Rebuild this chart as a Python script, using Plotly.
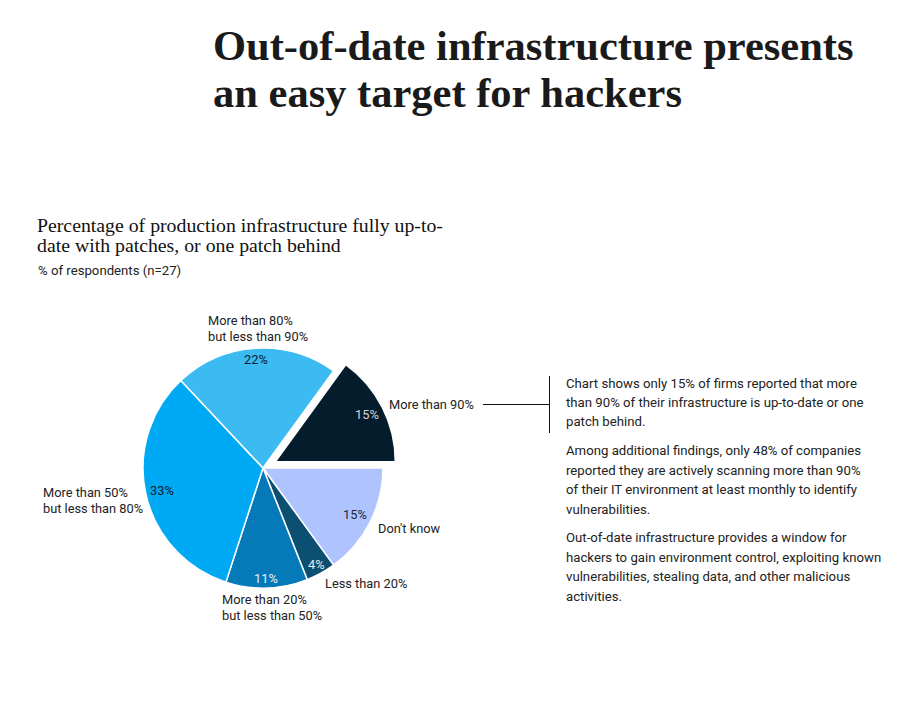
import math
import plotly.graph_objects as go

# ---------------- data ----------------
categories = ["More than 90%", "Don't know", "Less than 20%",
              "More than 20%<br>but less than 50%",
              "More than 50%<br>but less than 80%",
              "More than 80%<br>but less than 90%"]
values = [15, 15, 4, 11, 33, 22]
slice_colors = ["#051c2c", "#afc3ff", "#0b4f71", "#0679b8", "#00a9f4", "#3cbaf2"]
pct_text_colors = ["#d0d4d8", "#1a2a3a", "#e8eef2", "#e8eef2", "#0a2030", "#0a2030"]
pulls = [0.115, 0, 0, 0, 0, 0]

title_lines = ["Out-of-date infrastructure presents", "an easy target for hackers"]
subtitle_lines = ["Percentage of production infrastructure fully up-to-",
                  "date with patches, or one patch behind"]
unit_text = "% of respondents (n=27)"
notes = [
    ["Chart shows only 15% of firms reported that more",
     "than 90% of their infrastructure is up-to-date or one",
     "patch behind."],
    ["Among additional findings, only 48% of companies",
     "reported they are actively scanning more than 90%",
     "of their IT environment at least monthly to identify",
     "vulnerabilities."],
    ["Out-of-date infrastructure provides a window for",
     "hackers to gain environment control, exploiting known",
     "vulnerabilities, stealing data, and other malicious",
     "activities."],
]

# ---------------- layout constants ----------------
W, H = 903, 718
OFF = 8  # page body margin
CX, CY, R = 263, 468, 120
ROT = 36
max_pull = max(pulls)
box = 2 * R * (1 + max_pull)

SANS = "Roboto, Arial, sans-serif"
SERIF = "Liberation Serif, Times New Roman, serif"
TXT = "#222222"
FS = 13.2
FS_LAB = 12.8


def px(x, y):
    return (x - OFF) / W, 1 - (y - OFF) / H


fig = go.Figure()
dx0, dy1 = px(CX - box / 2, CY - box / 2)
dx1, dy0 = px(CX + box / 2, CY + box / 2)
fig.add_trace(go.Pie(
    labels=categories, values=values, sort=False, direction="clockwise",
    rotation=ROT, pull=pulls, textinfo="none", hoverinfo="label+percent",
    marker=dict(colors=slice_colors, line=dict(color="white", width=1.5)),
    domain=dict(x=[dx0, dx1], y=[dy0, dy1]),
    showlegend=False,
))

ann = []

# percentage labels placed along each slice bisector
label_r = [0.86, 0.86, 0.92, 0.92, 0.86, 0.91]
total = sum(values)
start = ROT
for v, pull, c, lr in zip(values, pulls, pct_text_colors, label_r):
    span = 360 * v / total
    mid = math.radians(start + span / 2)
    ox = CX + pull * R * math.sin(mid)
    oy = CY - pull * R * math.cos(mid)
    tx = ox + lr * R * math.sin(mid)
    ty = oy - lr * R * math.cos(mid)
    x, y = px(tx, ty)
    ann.append(dict(x=x, y=y, xref="paper", yref="paper", showarrow=False,
                    text=f"{round(100 * v / total)}%",
                    font=dict(family=SANS, size=FS_LAB, color=c),
                    xanchor="center", yanchor="middle"))
    start += span

# category labels
cat_pos = [(387, 404), (376, 528), (323, 583),
           (220, 607), (41, 500), (206, 328)]
for lab, (lx, ly) in zip(categories, cat_pos):
    lines = lab.split("<br>")
    for i, ln in enumerate(lines):
        yy = ly - (len(lines) - 1) * 8 + i * 16
        x, y = px(lx, yy)
        ann.append(dict(x=x, y=y, xref="paper", yref="paper", showarrow=False,
                        text=ln, font=dict(family=SANS, size=FS_LAB, color=TXT),
                        xanchor="left", yanchor="middle"))

# title
for i, ln in enumerate(title_lines):
    x, y = px(211, 46 + i * 47)
    ann.append(dict(x=x, y=y, xref="paper", yref="paper", showarrow=False,
                    text=f"<b>{ln}</b>",
                    font=dict(family=SERIF, size=42.5, color="#1a1a1a"),
                    xanchor="left", yanchor="middle"))

# subtitle
for i, ln in enumerate(subtitle_lines):
    x, y = px(35, 225 + i * 20)
    ann.append(dict(x=x, y=y, xref="paper", yref="paper", showarrow=False,
                    text=ln, font=dict(family=SERIF, size=19.8, color="#111111"),
                    xanchor="left", yanchor="middle"))
x, y = px(36, 270)
ann.append(dict(x=x, y=y, xref="paper", yref="paper", showarrow=False,
                text=unit_text, font=dict(family=SANS, size=FS, color=TXT),
                xanchor="left", yanchor="middle"))

# notes
yy = 383
for para in notes:
    for ln in para:
        x, y = px(564, yy)
        ann.append(dict(x=x, y=y, xref="paper", yref="paper", showarrow=False,
                        text=ln, font=dict(family=SANS, size=FS, color=TXT),
                        xanchor="left", yanchor="middle"))
        yy += 19.5
    yy += 9

shapes = []
x0, y0 = px(483, 404.5)
x1, y1 = px(549.5, 404.5)
shapes.append(dict(type="line", xref="paper", yref="paper", x0=x0, y0=y0, x1=x1, y1=y1,
                   line=dict(color="#111111", width=1)))
x0, y0 = px(549.5, 376)
x1, y1 = px(549.5, 433)
shapes.append(dict(type="line", xref="paper", yref="paper", x0=x0, y0=y0, x1=x1, y1=y1,
                   line=dict(color="#111111", width=1)))

fig.update_layout(
    width=W, height=H, margin=dict(l=0, r=0, t=0, b=0),
    paper_bgcolor="white", plot_bgcolor="white",
    annotations=ann, shapes=shapes,
)

fig.write_html("out.html")
